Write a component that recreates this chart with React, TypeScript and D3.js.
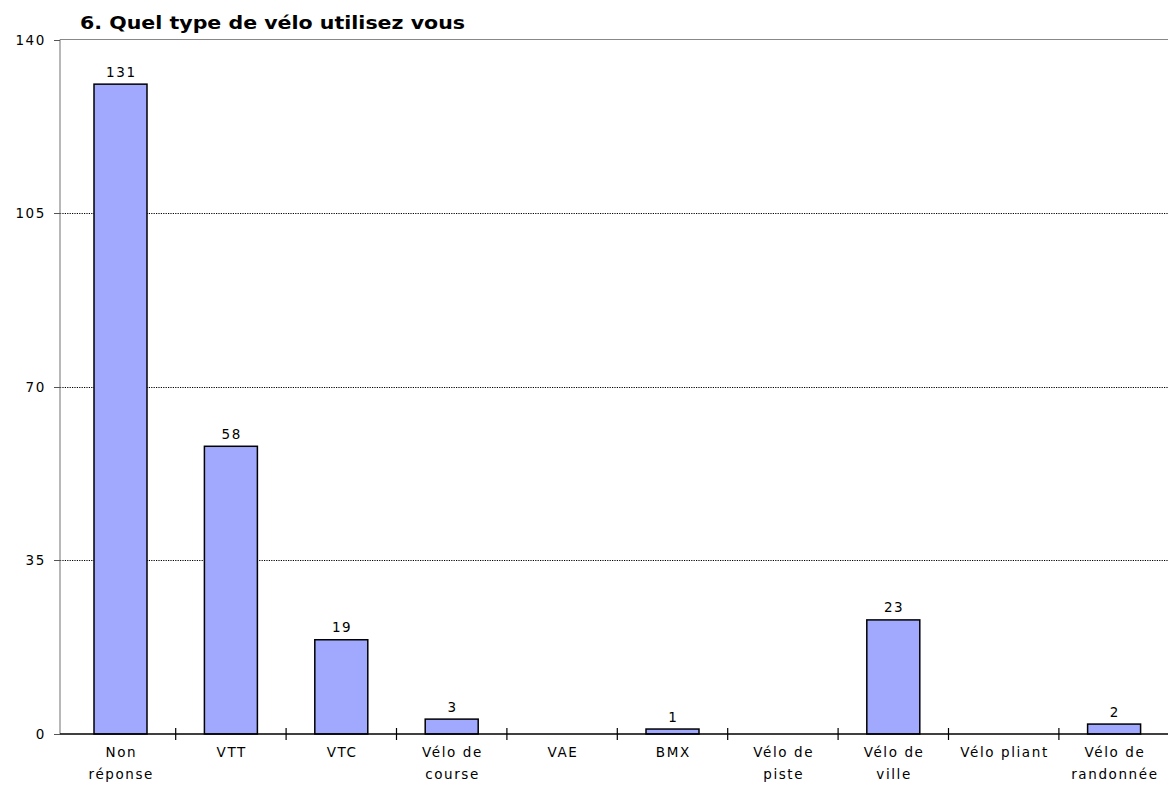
import React from "react";
import * as d3 from "d3";

const categories: string[][] = [
  ["Non", "réponse"],
  ["VTT"],
  ["VTC"],
  ["Vélo de", "course"],
  ["VAE"],
  ["BMX"],
  ["Vélo de", "piste"],
  ["Vélo de", "ville"],
  ["Vélo pliant"],
  ["Vélo de", "randonnée"],
];
const values: number[] = [131, 58, 19, 3, 0, 1, 0, 23, 0, 2];
const yTicks: number[] = [0, 35, 70, 105, 140];
const title = "6. Quel type de vélo utilisez vous";

export default function App() {
  const W = 1168, H = 787;
  const axisX = 60;
  const x0 = 65.3, x1 = 1169.3;
  const yTop = 39.5, yBot = 734;
  const keys = categories.map((_, i) => String(i));
  const x = d3.scaleBand<string>().domain(keys).range([x0, x1]).paddingInner(0.52).paddingOuter(0.26);
  const xb = d3.scaleBand<string>().domain(keys).range([x0, x1]);
  const y = d3.scaleLinear().domain([0, 140]).range([yBot, yTop]);
  const font = "'DejaVu Sans', Verdana, sans-serif";
  const fs = 13.5;
  const ls = 1.6;
  return (
    <svg width={W} height={H} style={{ position: "absolute", left: 0, top: 0, background: "#fff" }}>
      <text x={80} y={29} fontFamily={font} fontWeight="bold" fontSize={17} textLength={385} lengthAdjust="spacingAndGlyphs" fill="#000">{title}</text>
      {/* grid lines */}
      {yTicks.filter(t => t > 0 && t < 140).map(t => (
        <line key={t} x1={axisX} x2={W} y1={Math.round(y(t)) + 0.5} y2={Math.round(y(t)) + 0.5} stroke="#000" strokeWidth={1} strokeDasharray="1.2,1.2" />
      ))}
      {/* top frame line */}
      <line x1={axisX} x2={W} y1={yTop} y2={yTop} stroke="#888" strokeWidth={1.2} />
      {/* y axis */}
      <line x1={axisX} x2={axisX} y1={yTop} y2={yBot} stroke="#888" strokeWidth={1.2} />
      {yTicks.map(t => (
        <g key={t}>
          <line x1={axisX - 6} x2={axisX} y1={Math.round(y(t)) + 0.5} y2={Math.round(y(t)) + 0.5} stroke="#555" />
          <text x={46} y={y(t) + 5} textAnchor="end" fontFamily={font} fontSize={fs} letterSpacing={ls} fill="#000">{t}</text>
        </g>
      ))}
      {/* bars */}
      {values.map((v, i) => v > 0 && (
        <g key={i}>
          <rect x={x(String(i))!} y={y(v)} width={x.bandwidth()} height={yBot - y(v)} fill="#a0a9fd" stroke="#000" strokeWidth={1.5} />
          <text x={x(String(i))! + x.bandwidth() / 2 + ls / 2} y={y(v) - 7.5} textAnchor="middle" fontFamily={font} fontSize={fs} letterSpacing={ls} fill="#000">{v}</text>
        </g>
      ))}
      {/* x axis */}
      <line x1={axisX} x2={W} y1={yBot} y2={yBot} stroke="#000" strokeWidth={1.5} />
      {keys.slice(1).map(k => (
        <line key={k} x1={xb(k)!} x2={xb(k)!} y1={yBot - 6} y2={yBot + 6} stroke="#000" strokeWidth={1.2} />
      ))}
      {categories.map((lines, i) => (
        <text key={i} textAnchor="middle" fontFamily={font} fontSize={fs} letterSpacing={ls} fill="#000">
          {lines.map((ln, j) => (
            <tspan key={j} x={xb(String(i))! + xb.bandwidth() / 2 + ls / 2} y={757 + j * 22}>{ln}</tspan>
          ))}
        </text>
      ))}
    </svg>
  );
}
